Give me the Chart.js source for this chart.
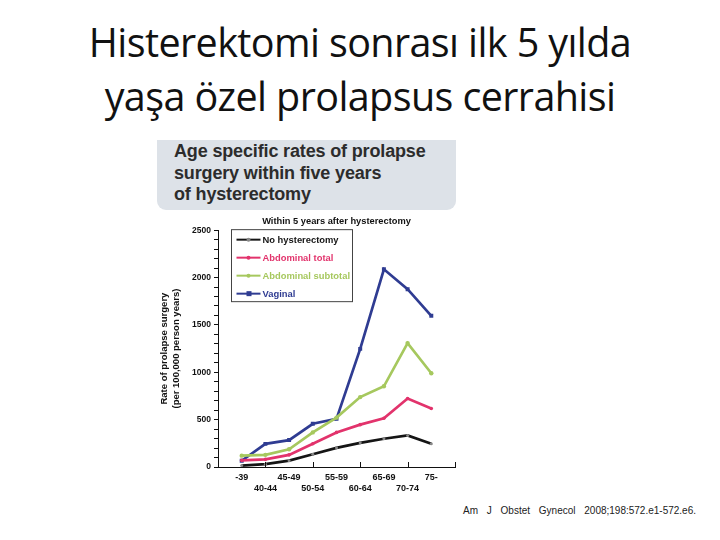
<!DOCTYPE html>
<html>
<head>
<meta charset="utf-8">
<script src="https://cdn.jsdelivr.net/npm/chart.js@4.4.1/dist/chart.umd.min.js"></script>
<style>
  body { margin: 0; background: #fff; width: 720px; height: 540px; position: relative; overflow: hidden; }
  #title { position: absolute; left: 0; top: 15px; width: 720px; text-align: center;
    font-family: "Open Sans", "Noto Sans", sans-serif; font-size: 39.5px; line-height: 54px; color: #111; letter-spacing: -0.6px; }
  #header { position: absolute; left: 157px; top: 140px; width: 299px; height: 70px; background: #dde2e8;
    border-radius: 0 0 9px 9px; }
  #header div { position: absolute; left: 17px; top: 1px; font-family: "Liberation Sans", Arial, sans-serif;
    font-weight: bold; font-size: 18px; line-height: 21.5px; color: #2c2c2c; letter-spacing: -0.15px; }
  #wrap { position: absolute; left: 155px; top: 212px; width: 305px; height: 290px; }
  #cite { position: absolute; left: 463px; top: 505px; font-family: "Liberation Sans", Arial, sans-serif;
    font-size: 10px; color: #222; word-spacing: 6px; letter-spacing: 0px; }
</style>
</head>
<body>
<div id="title">Histerektomi sonrası ilk 5 yılda<br>yaşa özel prolapsus cerrahisi</div>
<div id="header"><div>Age specific rates of prolapse<br>surgery within five years<br>of hysterectomy</div></div>
<div id="wrap"><canvas id="myChart" width="305" height="290"></canvas></div>
<div id="cite">Am J Obstet Gynecol 2008;198:572.e1-572.e6.</div>
<script>
  const ageGroups = ['-39', '40-44', '45-49', '50-54', '55-59', '60-64', '65-69', '70-74', '75-'];

  const noHysterectomy = [15, 30, 67, 134, 202, 255, 298, 333, 245];
  const abdominalTotal = [70, 81, 128, 245, 365, 447, 514, 723, 617];
  const abdominalSubtotal = [120, 128, 187, 365, 521, 738, 852, 1308, 990];
  const vaginal = [66, 244, 284, 456, 508, 1247, 2087, 1877, 1596];

  const yTicks = [0, 500, 1000, 1500, 2000, 2500];

  function toPoints(values) {
    return values.map((v, i) => ({ x: i, y: v }));
  }

  const font = 'Liberation Sans';

  const data1 = {
    datasets: [
      {
        label: 'No hysterectomy',
        data: toPoints(noHysterectomy),
        borderColor: '#151515',
        backgroundColor: '#888',
        pointRadius: 1.5,
        pointBorderWidth: 0
      },
      {
        label: 'Abdominal total',
        data: toPoints(abdominalTotal),
        borderColor: '#e2336c',
        backgroundColor: '#e2336c',
        pointRadius: 1.8,
        pointBorderWidth: 0
      },
      {
        label: 'Abdominal subtotal',
        data: toPoints(abdominalSubtotal),
        borderColor: '#a6c85e',
        backgroundColor: '#a6c85e',
        pointRadius: 2.2,
        pointBorderWidth: 0
      },
      {
        label: 'Vaginal',
        data: toPoints(vaginal),
        borderColor: '#2f3c92',
        backgroundColor: '#2f3c92',
        pointStyle: 'rect',
        pointRadius: 2.8,
        pointBorderWidth: 0
      }
    ]
  };

  // legend in a box inside the plot, and the inward x ticks
  const extras = {
    id: 'extras',
    afterDraw(chart) {
      const ctx = chart.ctx;
      const area = chart.chartArea;
      const xs = chart.scales.x;
      ctx.save();
      ctx.strokeStyle = '#111';
      ctx.lineWidth = 1;
      for (let i = 1; i <= 9; i += 2) {
        const px = Math.round(xs.getPixelForValue(i)) + 0.5;
        ctx.beginPath();
        ctx.moveTo(px, area.bottom);
        ctx.lineTo(px, area.bottom - 5);
        ctx.stroke();
      }
      const bx = area.left + 13.5, by = area.top - 0.5;
      ctx.strokeStyle = '#444';
      ctx.strokeRect(bx, by, 121, 72);
      ctx.font = 'bold 9.4px ' + font;
      ctx.textBaseline = 'middle';
      chart.data.datasets.forEach((ds, i) => {
        const y = by + 10 + i * 18;
        ctx.strokeStyle = ds.borderColor;
        ctx.lineWidth = 2;
        ctx.beginPath();
        ctx.moveTo(bx + 5, y);
        ctx.lineTo(bx + 29, y);
        ctx.stroke();
        ctx.fillStyle = ds.backgroundColor;
        if (ds.pointStyle === 'rect') ctx.fillRect(bx + 15, y - 2.5, 5, 5);
        else { ctx.beginPath(); ctx.arc(bx + 17, y, 2, 0, Math.PI * 2); ctx.fill(); }
        ctx.fillStyle = ds.borderColor;
        ctx.fillText(ds.label, bx + 31, y + 0.5);
      });
      ctx.restore();
    }
  };

  const config = {
    type: 'line',
    data: data1,
    options: {
      responsive: false,
      animation: false,
      layout: { padding: { left: 0, right: 5, top: 0, bottom: 0 } },
      elements: { line: { borderWidth: 2.7, tension: 0 } },
      plugins: {
        legend: { display: false },
        tooltip: { enabled: false },
        title: {
          display: true,
          fullSize: false,
          text: 'Within 5 years after hysterectomy',
          color: '#111',
          font: { family: font, size: 9.3, weight: 'bold' },
          padding: { top: 4, bottom: 3 }
        }
      },
      scales: {
        x: {
          type: 'linear',
          min: -1,
          max: 9,
          afterFit: s => { s.height = 35; },
          afterBuildTicks: s => { s.ticks = ageGroups.map((g, i) => ({ value: i })); },
          ticks: {
            autoSkip: false,
            maxRotation: 0,
            color: '#111',
            padding: -3,
            font: { family: font, size: 9, weight: 'bold' },
            callback: v => (v % 2 === 0 ? ageGroups[v] : ['', ageGroups[v]])
          },
          grid: { display: false },
          border: { display: true, color: '#111', width: 1 }
        },
        y: {
          min: 0,
          max: 2500,
          afterFit: s => { s.width = 63; },
          afterBuildTicks: s => {
            const t = [];
            for (let v = 0; v <= 2500; v += 100) t.push({ value: v });
            s.ticks = t;
          },
          ticks: {
            autoSkip: false,
            color: '#111',
            padding: 3,
            font: { family: font, size: 8.5, weight: 'bold' },
            callback: v => (yTicks.includes(v) ? String(v) : '')
          },
          grid: { drawOnChartArea: false, tickLength: 4, color: '#111' },
          border: { display: true, color: '#111', width: 1 },
          title: {
            display: true,
            text: ['Rate of prolapse surgery', '(per 100,000 person years)'],
            color: '#111',
            font: { family: font, size: 9.5, weight: 'bold', lineHeight: 1.3 },
            padding: { top: 3, bottom: 0 }
          }
        }
      }
    },
    plugins: [extras]
  };

  const myChart = new Chart(
    document.getElementById('myChart'),
    config
  );
</script>
</body>
</html>
